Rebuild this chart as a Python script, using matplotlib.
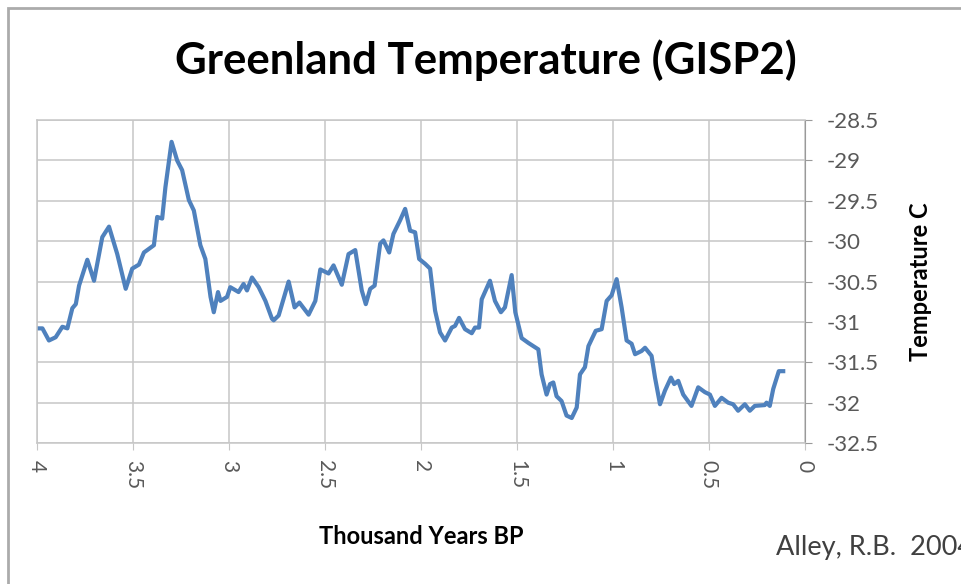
import matplotlib.pyplot as plt
from matplotlib.patches import Rectangle

# values (thousand years BP, temperature in C)
years_bp = [
    4.000, 3.972, 3.938, 3.903, 3.868, 3.842, 3.816, 3.798, 3.781, 3.738,
    3.703, 3.660, 3.625, 3.582, 3.538, 3.504, 3.469, 3.443, 3.391, 3.374,
    3.348, 3.331, 3.299, 3.270, 3.244, 3.209, 3.183, 3.149, 3.123, 3.096,
    3.079, 3.057, 3.044, 3.010, 2.993, 2.950, 2.924, 2.906, 2.880, 2.845,
    2.810, 2.776, 2.767, 2.741, 2.689, 2.658, 2.633, 2.585, 2.550, 2.524,
    2.481, 2.455, 2.412, 2.377, 2.342, 2.308, 2.287, 2.264, 2.241, 2.212,
    2.195, 2.165, 2.143, 2.108, 2.082, 2.056, 2.030, 2.009, 1.978, 1.952,
    1.926, 1.900, 1.874, 1.839, 1.822, 1.801, 1.770, 1.735, 1.718, 1.697,
    1.683, 1.640, 1.614, 1.583, 1.562, 1.527, 1.508, 1.475, 1.440, 1.388,
    1.371, 1.345, 1.327, 1.310, 1.293, 1.267, 1.241, 1.214, 1.188, 1.171,
    1.145, 1.127, 1.089, 1.058, 1.032, 1.006, 0.980, 0.954, 0.928, 0.902,
    0.884, 0.850, 0.832, 0.798, 0.780, 0.754, 0.728, 0.697, 0.680, 0.659,
    0.633, 0.590, 0.555, 0.520, 0.494, 0.468, 0.433, 0.399, 0.373, 0.347,
    0.312, 0.286, 0.260, 0.208, 0.199, 0.182, 0.164, 0.135, 0.112,
]
temperature = [
    -31.08, -31.08, -31.23, -31.19, -31.06, -31.08, -30.83, -30.78, -30.55, -30.23,
    -30.49, -29.95, -29.82, -30.16, -30.59, -30.34, -30.29, -30.14, -30.05, -29.70,
    -29.72, -29.33, -28.77, -29.00, -29.12, -29.49, -29.62, -30.05, -30.22, -30.69,
    -30.88, -30.63, -30.74, -30.69, -30.57, -30.63, -30.53, -30.61, -30.45, -30.57,
    -30.74, -30.96, -30.98, -30.92, -30.50, -30.82, -30.76, -30.91, -30.74, -30.35,
    -30.40, -30.30, -30.54, -30.16, -30.11, -30.61, -30.78, -30.59, -30.55, -30.03,
    -29.99, -30.14, -29.91, -29.74, -29.60, -29.87, -29.89, -30.22, -30.28, -30.34,
    -30.86, -31.13, -31.23, -31.07, -31.05, -30.95, -31.09, -31.14, -31.07, -31.07,
    -30.72, -30.49, -30.74, -30.88, -30.82, -30.42, -30.88, -31.20, -31.26, -31.34,
    -31.65, -31.90, -31.77, -31.75, -31.92, -31.98, -32.16, -32.19, -32.06, -31.65,
    -31.56, -31.30, -31.11, -31.09, -30.74, -30.67, -30.47, -30.82, -31.23, -31.27,
    -31.40, -31.36, -31.32, -31.42, -31.69, -32.02, -31.85, -31.69, -31.77, -31.73,
    -31.90, -32.04, -31.81, -31.87, -31.90, -32.04, -31.94, -32.00, -32.02, -32.10,
    -32.02, -32.10, -32.04, -32.03, -32.00, -32.04, -31.83, -31.61, -31.61,
]

x_ticks = [4, 3.5, 3, 2.5, 2, 1.5, 1, 0.5, 0]
x_tick_labels = ["4", "3.5", "3", "2.5", "2", "1.5", "1", "0.5", "0"]
y_ticks = [-32.5, -32, -31.5, -31, -30.5, -30, -29.5, -29, -28.5]
y_tick_labels = ["-32.5", "-32", "-31.5", "-31", "-30.5", "-30", "-29.5", "-29", "-28.5"]

plt.rcParams["font.family"] = ["Lato", "DejaVu Sans"]

fig = plt.figure(figsize=(9.62, 5.84), dpi=100)
ax = fig.add_axes([0.0385, 0.2414, 0.798, 0.553])

# outer chart border (only top and left visible in the crop)
fig.patches.append(Rectangle((8 / 962, -0.2), 1.5, 1.2 - 8 / 584,
                             transform=fig.transFigure, fill=False,
                             edgecolor="#ababab", linewidth=2))

ax.plot(years_bp, temperature, color="#4f81bd", linewidth=3,
        solid_joinstyle="round")

ax.set_xlim(4, 0)
ax.set_ylim(-32.5, -28.5)
ax.set_xticks(x_ticks)
ax.set_xticklabels(x_tick_labels, rotation=-90, va="top", ha="center")
ax.set_yticks(y_ticks)
ax.set_yticklabels(y_tick_labels)

ax.yaxis.tick_right()
ax.yaxis.set_label_position("right")
ax.grid(True, color="#c6c6c6", linewidth=1.1)
ax.set_axisbelow(True)

for side in ["top", "left", "bottom"]:
    ax.spines[side].set_color("#c6c6c6")
    ax.spines[side].set_linewidth(1.1)
ax.spines["right"].set_color("#9a9a9a")

ax.tick_params(axis="x", colors="#c6c6c6", labelcolor="#595959",
               labelsize=15, length=5, pad=7)
ax.tick_params(axis="y", colors="#9a9a9a", labelcolor="#595959",
               labelsize=16, length=5, pad=11)

ax.set_xlabel("Thousand Years BP", fontsize=17, fontweight="bold", color="#000000")
ax.xaxis.set_label_coords(0.5, -0.255)
ax.set_ylabel("Temperature C", fontsize=17, fontweight="bold",
              rotation=90, va="center", ha="center")
ax.yaxis.set_label_coords(1.151, 0.5)

fig.text(0.505, 0.897, "Greenland Temperature (GISP2)", fontsize=31.5,
         fontweight="bold", ha="center", va="center")
# source note runs off the right edge, as in the reference
fig.text(776 / 962, 1 - 548 / 584, "Alley, R.B.  2004", fontsize=19.5,
         color="#404040", ha="left", va="center")

fig.savefig("out.png", dpi=100)
